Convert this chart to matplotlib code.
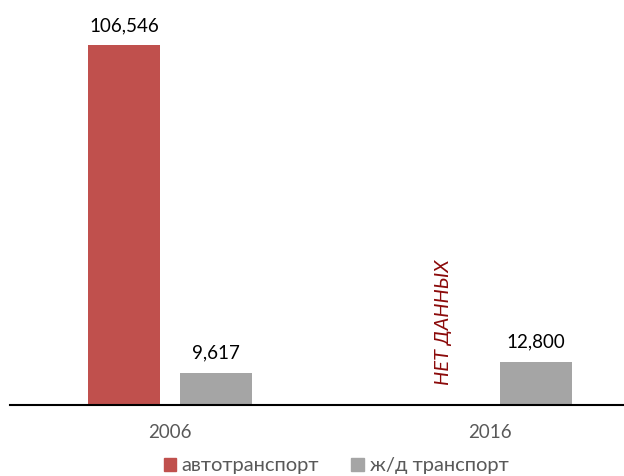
import numpy as np
import matplotlib.pyplot as plt
from matplotlib.patches import Patch
from matplotlib.transforms import ScaledTranslation

plt.rcParams['font.family'] = ['Lato', 'DejaVu Sans']

years = ["2006", "2016"]
auto = [106546, np.nan]
rail = [9617, 12800]
labels = ["автотранспорт", "ж/д транспорт"]
c_auto = "#C0504D"
c_rail = "#A5A5A5"
txt = "#595959"

fig = plt.figure(figsize=(6.24, 4.76), dpi=100)
ax = fig.add_axes([10/624, 71/476, 614/624, 395/476])

x = np.arange(len(years))
w = 0.225
off = 0.144
ax.bar(x - off, auto, w, color=c_auto)
ax.bar(x + off, rail, w, color=c_rail)

for i in range(len(years)):
    if not np.isnan(auto[i]):
        ax.annotate(f"{auto[i]:,.0f}", (x[i] - off, auto[i]), xytext=(0, 8),
                    textcoords="offset points", ha="center", va="bottom", fontsize=13.5)
    else:
        # нет данных по автотранспорту
        ax.text(x[i] - off, 0, "НЕТ ДАННЫХ", rotation=90, ha="center", va="bottom",
                color="#8B0A0A", style="italic", fontsize=14.5,
                transform=ax.transData + ScaledTranslation(0, 20/100, fig.dpi_scale_trans))
    ax.annotate(f"{rail[i]:,.0f}", (x[i] + off, rail[i]), xytext=(0, 8),
                textcoords="offset points", ha="center", va="bottom", fontsize=13.5)

ax.set_xlim(-0.5, 1.42)
ax.set_ylim(0, 106546 * 395 / 360)
ax.set_xticks(x)
ax.set_xticklabels(years, color=txt, fontsize=13.5)
ax.tick_params(axis="x", length=0, pad=14)
ax.set_yticks([])
for s in ["top", "right", "left"]:
    ax.spines[s].set_visible(False)
ax.spines["bottom"].set_linewidth(1.5)

handles = [Patch(color=c_auto, label=labels[0]), Patch(color=c_rail, label=labels[1])]
fig.legend(handles=handles, loc="center", bbox_to_anchor=(336/624, 10/476), ncol=2, frameon=False,
           fontsize=14.5, handlelength=0.6, handleheight=0.6, handletextpad=0.3, columnspacing=1.6,
           labelcolor=txt)

fig.savefig("out.png", dpi=100)
